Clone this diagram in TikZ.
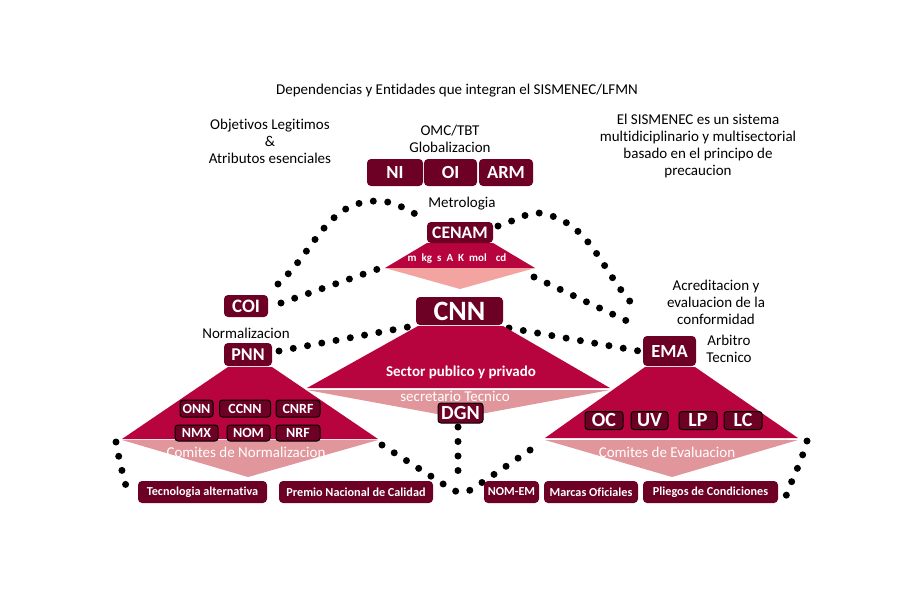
\documentclass[tikz,border=0pt]{standalone}
\usepackage{fontspec}
\setmainfont{Carlito}[Ligatures=NoCommon]
\definecolor{boxc}{HTML}{6C0125}
\definecolor{crim}{HTML}{B8043E}
\definecolor{pinkc}{HTML}{E1969B}
\definecolor{pinkl}{HTML}{F3A3A0}
\begin{document}
\begin{tikzpicture}[x=1pt,y=-1pt,
  box/.style={fill=boxc, text=white, font=\bfseries, rounded corners=4pt, inner sep=0pt},
  ibox/.style={box, draw=black, line width=1pt, rounded corners=3pt},
  dots/.style={line width=7pt, line cap=round, dash pattern=on 0pt off 14.5pt},
  lbl/.style={text=black, align=center, inner sep=0pt, font=\fontsize{15pt}{17pt}\selectfont},
  wtxt/.style={text=white, inner sep=0pt}]
\useasboundingbox (0,0) rectangle (900,600);
% coordinates for dotted connectors
\coordinate (a1) at (278,284);
\coordinate (a2) at (377,201);
\coordinate (a3) at (424,218);
\coordinate (b1) at (281,303);
\coordinate (b2) at (378,269);
\coordinate (c1) at (498,226);
\coordinate (c2) at (540,213);
\coordinate (c3) at (635,307);
\coordinate (d1) at (534,277);
\coordinate (d2) at (627,321);
\coordinate (e1) at (509,328);
\coordinate (e2) at (639,351);
\coordinate (f1) at (279,351);
\coordinate (f2) at (408,327);
\coordinate (g1) at (116,442);
\coordinate (g2) at (126,486);
\coordinate (h1) at (382,445);
\coordinate (h2) at (462,496);
\coordinate (h3) at (542,442);
\coordinate (i1) at (807,441);
\coordinate (i2) at (786,496);
\coordinate (k1) at (458,427);
\coordinate (k2) at (458,472);
% dotted connectors
\draw[dots] (a1) to[out=42,in=180] (a2) to[out=0,in=157] (a3);
\draw[dots] (b1) -- (b2);
\draw[dots] (c1) to[out=15,in=180] (c2) to[out=-10,in=133] (c3);
\draw[dots] (d1) -- (d2);
\draw[dots] (e1) -- (e2);
\draw[dots] (f1) -- (f2);
\draw[dots] (g1) to[out=-80,in=105] (g2);
\draw[dots, rounded corners=12pt] (h1) -- (h2) -- (h3);
\draw[dots] (i1) to[out=-105,in=70] (i2);
\draw[dots] (k1) -- (k2);
% triangles
\fill[crim] (427,243) -- (493,243) -- (535,268) -- (385,268) -- cycle;
\fill[pinkl] (385,268) -- (535,268) -- (460,289) -- cycle;
\fill[crim] (418,326) -- (503,326) -- (610,388) -- (307,388) -- cycle;
\fill[pinkc] (307,390) -- (610,390) -- (459,418) -- cycle;
\fill[crim] (228,367) -- (272,367) -- (378,439) -- (122,439) -- cycle;
\fill[pinkc] (122,440) -- (378,440) -- (248,477) -- cycle;
\fill[crim] (645,367) -- (695,367) -- (798,438) -- (545,438) -- cycle;
\fill[pinkc] (545,440) -- (798,440) -- (672,477) -- cycle;
% texts
\node[lbl] (title) at (457,91) {Dependencias y Entidades que integran el SISMENEC/LFMN};
\node[lbl] (obj) at (270,141) {Objetivos Legitimos\\\&\\Atributos esenciales};
\node[lbl] (omc) at (450,138.5) {OMC/TBT\\Globalizacion};
\node[lbl] (sism) at (698,145.5) {El SISMENEC es un sistema\\multidiciplinario y multisectorial\\basado en el principo de\\precaucion};
\node[lbl] (metro) at (462,204) {Metrologia};
\node[lbl] (norm) at (246,333) {Normalizacion};
\node[lbl] (acred) at (716,302) {Acreditacion y\\evaluacion de la\\conformidad};
\node[lbl] (arb) at (729,349) {Arbitro\\Tecnico};
% top boxes
\node[box, minimum width=56pt, minimum height=27pt, font=\bfseries\fontsize{18.5pt}{20pt}\selectfont] (ni) at (395,172.5) {NI};
\node[box, minimum width=53pt, minimum height=27pt, font=\bfseries\fontsize{18.5pt}{20pt}\selectfont] (oi) at (450.5,172.5) {OI};
\node[box, minimum width=54pt, minimum height=27pt, font=\bfseries\fontsize{18.5pt}{20pt}\selectfont] (arm) at (506,172.5) {ARM};
\node[box, minimum width=66pt, minimum height=21pt, font=\bfseries\fontsize{17.6pt}{20pt}\selectfont] (cenam) at (460,232.5) {CENAM};
\node[wtxt, font=\bfseries\fontsize{11pt}{12pt}\selectfont] (units) at (457,259) {m\hspace{5pt}kg\hspace{5pt}s\hspace{5pt}A\hspace{5pt}K\hspace{5pt}mol\hspace{9pt}cd};
\node[box, minimum width=44pt, minimum height=22pt, font=\bfseries\fontsize{19pt}{20pt}\selectfont] (coi) at (246,306) {COI};
\node[box, minimum width=48pt, minimum height=23pt, font=\bfseries\fontsize{18pt}{20pt}\selectfont] (pnn) at (248,354.5) {PNN};
\node[box, minimum width=87pt, minimum height=28pt, font=\bfseries\fontsize{28pt}{30pt}\selectfont] (cnn) at (459.5,311) {CNN};
\node[box, minimum width=53pt, minimum height=30pt, font=\bfseries\fontsize{18.5pt}{20pt}\selectfont] (ema) at (669.5,351) {EMA};
\node[wtxt, font=\bfseries\fontsize{15pt}{16pt}\selectfont] (sector) at (461,372) {Sector publico y privado};
\node[wtxt, font=\fontsize{15pt}{16pt}\selectfont] (secre) at (455,396) {secretario Tecnico};
\node[ibox, minimum width=45pt, minimum height=20pt, font=\bfseries\fontsize{20pt}{20pt}\selectfont] (dgn) at (460.5,413) {DGN};
% normalizacion inner boxes
\node[ibox, minimum width=33pt, minimum height=17pt, font=\bfseries\fontsize{14pt}{16pt}\selectfont] (onn) at (196.5,408.5) {ONN};
\node[ibox, minimum width=51pt, minimum height=17pt, font=\bfseries\fontsize{14pt}{16pt}\selectfont] (ccnn) at (245,408.5) {CCNN};
\node[ibox, minimum width=44pt, minimum height=17pt, font=\bfseries\fontsize{14pt}{16pt}\selectfont] (cnrf) at (298,408.5) {CNRF};
\node[ibox, minimum width=43pt, minimum height=16pt, font=\bfseries\fontsize{14pt}{16pt}\selectfont] (nmx) at (196.5,433) {NMX};
\node[ibox, minimum width=43pt, minimum height=16pt, font=\bfseries\fontsize{14pt}{16pt}\selectfont] (nom) at (248.5,433) {NOM};
\node[ibox, minimum width=44pt, minimum height=16pt, font=\bfseries\fontsize{14pt}{16pt}\selectfont] (nrf) at (298,433) {NRF};
\node[wtxt, font=\fontsize{15pt}{16pt}\selectfont] (comn) at (246,452) {Comites de Normalizacion};
% evaluacion inner boxes
\node[ibox, minimum width=38pt, minimum height=18pt, font=\bfseries\fontsize{20pt}{20pt}\selectfont] (oc) at (604,420.5) {OC};
\node[ibox, minimum width=37pt, minimum height=18pt, font=\bfseries\fontsize{20pt}{20pt}\selectfont] (uv) at (649.5,420.5) {UV};
\node[ibox, minimum width=38pt, minimum height=18pt, font=\bfseries\fontsize{20pt}{20pt}\selectfont] (lp) at (698,420.5) {LP};
\node[ibox, minimum width=38pt, minimum height=18pt, font=\bfseries\fontsize{20pt}{20pt}\selectfont] (lc) at (743,420.5) {LC};
\node[wtxt, font=\fontsize{15pt}{16pt}\selectfont] (come) at (667,452) {Comites de Evaluacion};
% bottom boxes
\node[box, minimum width=129pt, minimum height=22pt, font=\bfseries\fontsize{12.2pt}{13pt}\selectfont] (tec) at (202.5,492) {Tecnologia alternativa};
\node[box, minimum width=154pt, minimum height=22pt, font=\bfseries\fontsize{12.2pt}{13pt}\selectfont] (prem) at (356,492) {Premio Nacional de Calidad};
\node[box, minimum width=55pt, minimum height=22pt, font=\bfseries\fontsize{12.2pt}{13pt}\selectfont] (nomem) at (511.5,492) {NOM-EM};
\node[box, minimum width=94pt, minimum height=22pt, font=\bfseries\fontsize{12.2pt}{13pt}\selectfont] (marc) at (591,492) {Marcas Oficiales};
\node[box, minimum width=135pt, minimum height=22pt, font=\bfseries\fontsize{12.2pt}{13pt}\selectfont] (plie) at (710.5,492) {Pliegos de Condiciones};
\end{tikzpicture}
\end{document}
